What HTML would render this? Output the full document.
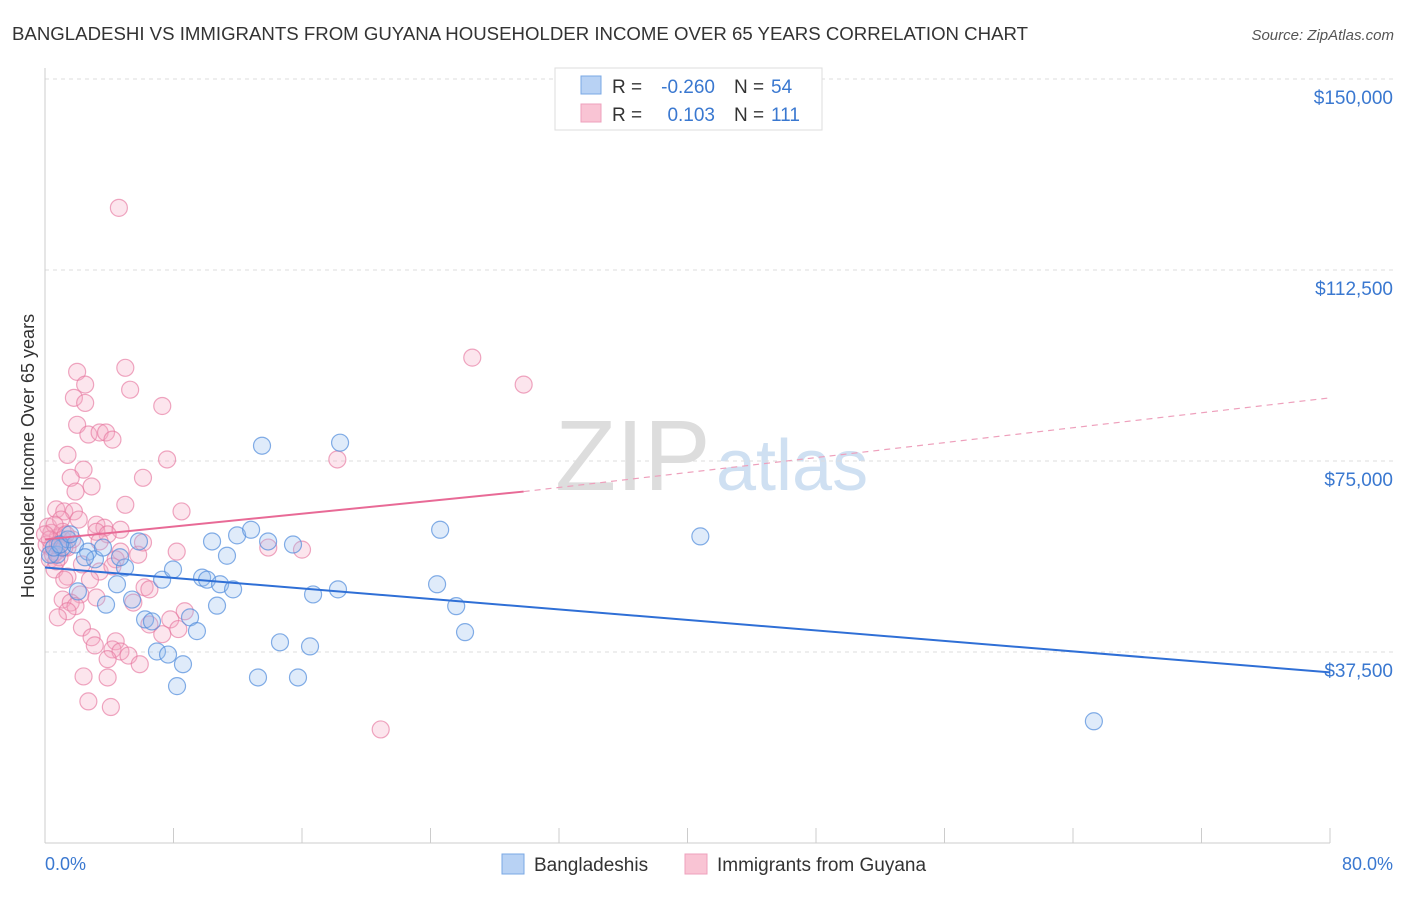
<!DOCTYPE html>
<html><head><meta charset="utf-8"><style>
body{margin:0;background:#fff;font-family:"Liberation Sans",sans-serif;}
svg text{font-family:"Liberation Sans",sans-serif;}
</style></head><body>
<svg id="chart" width="1406" height="892">
<text x="12" y="40" font-size="18" fill="#333" textLength="1016" lengthAdjust="spacingAndGlyphs">BANGLADESHI VS IMMIGRANTS FROM GUYANA HOUSEHOLDER INCOME OVER 65 YEARS CORRELATION CHART</text>
<text x="1394" y="40" font-size="15" fill="#555" text-anchor="end" font-style="italic">Source: ZipAtlas.com</text>
<text x="555" y="490" font-size="100" fill="#ddd" font-family="Liberation Serif">ZIP</text>
<text x="716" y="490" font-size="72" fill="#cfe0f2">atlas</text>
<g id="grid"></g><g id="axes"></g><g id="marks"></g><g id="lines"></g>
<text transform="translate(34,456) rotate(-90)" font-size="18" fill="#333" text-anchor="middle">Householder Income Over 65 years</text>
<text x="45" y="870" font-size="18" fill="#3a78d0">0.0%</text>
<text x="1393" y="870" font-size="18" fill="#3a78d0" text-anchor="end">80.0%</text>
<g>
<rect x="555" y="68" width="267" height="62" fill="#fff" stroke="#ddd"/>
<rect x="581" y="76" width="20" height="18" fill="#b8d2f4" stroke="#7aa8e4"/>
<rect x="581" y="104" width="20" height="18" fill="#f9c4d4" stroke="#eea0bc"/>
<text x="612" y="93" font-size="19" fill="#333">R =</text>
<text x="715" y="93" font-size="19" fill="#3a78d0" text-anchor="end">-0.260</text>
<text x="734" y="93" font-size="19" fill="#333">N =</text>
<text x="771" y="93" font-size="19" fill="#3a78d0">54</text>
<text x="612" y="121" font-size="19" fill="#333">R =</text>
<text x="715" y="121" font-size="19" fill="#3a78d0" text-anchor="end">0.103</text>
<text x="734" y="121" font-size="19" fill="#333">N =</text>
<text x="771" y="121" font-size="19" fill="#3a78d0">111</text>
</g>
<g>
<rect x="502" y="854" width="22" height="20" fill="#b8d2f4" stroke="#7aa8e4"/>
<text x="534" y="871" font-size="19" fill="#333">Bangladeshis</text>
<rect x="685" y="854" width="22" height="20" fill="#f9c4d4" stroke="#eea0bc"/>
<text x="717" y="871" font-size="19" fill="#333">Immigrants from Guyana</text>
</g>
</svg>
<script>
const yTicks=[37500,75000,112500,150000];
const yTickLabels=["$37,500","$75,000","$112,500","$150,000"];
const blueX=[0.75,1.06,1.43,1.87,2.68,3.11,3.61,3.8,2.05,4.48,4.98,4.67,5.42,5.85,6.23,6.66,6.97,7.29,7.66,7.97,8.22,8.59,9.03,9.46,9.78,10.09,10.4,10.71,10.9,11.33,11.71,11.96,12.83,13.26,13.51,13.89,14.63,15.44,15.75,16.5,16.69,18.24,18.37,24.41,24.6,25.6,26.15,40.8,65.3,0.31,0.56,0.93,1.56,2.49];
const blueY=[56.6,58.0,59.6,58.6,57.2,55.7,58.0,46.8,49.4,50.8,54.1,56.1,47.8,59.2,43.9,43.5,37.6,51.7,37.0,53.7,30.8,35.1,44.3,41.6,52.1,51.7,59.2,46.6,50.8,56.4,49.8,60.4,61.5,32.5,78.0,59.2,39.4,58.6,32.5,38.6,48.8,49.8,78.6,50.8,61.5,46.5,41.4,60.2,23.9,56.6,58.0,58.6,60.6,56.1];
const pinkX=[4.6,26.6,29.8,5.0,2.0,2.5,5.3,1.8,2.5,7.3,2.0,2.7,3.4,3.8,4.2,18.2,7.6,2.4,1.4,1.6,2.9,6.1,1.9,5.0,8.5,0.7,1.2,1.8,3.2,3.7,4.7,0.2,0.4,0.8,1.1,0.1,0.4,0.7,1.0,0.3,13.9,16.0,8.2,4.7,5.8,4.4,2.3,0.6,3.4,1.4,1.2,2.8,6.2,6.5,2.2,3.2,1.1,1.6,5.5,1.9,1.4,8.7,0.8,7.8,6.5,8.3,2.3,7.3,2.9,3.1,4.4,4.2,4.7,5.2,3.9,5.9,2.4,3.9,2.7,4.1,20.9,0.8,1.1,1.4,1.7,0.6,0.3,0.5,0.0,0.9,1.3,3.2,3.9,3.4,0.7,4.2,6.1,2.1,1.2];
const pinkY=[124.7,95.3,90.0,93.3,92.5,90.0,89.0,87.4,86.4,85.8,82.1,80.2,80.6,80.6,79.2,75.3,75.3,73.3,76.2,71.7,70.0,71.7,69.0,66.4,65.1,65.5,65.1,65.1,62.5,61.9,61.5,62.1,60.9,60.0,59.6,58.6,58.0,57.2,63.5,55.7,58.0,57.6,57.2,57.2,56.6,55.7,54.7,53.7,53.3,52.3,51.7,51.7,50.2,49.8,48.8,48.2,47.8,47.2,47.2,46.5,45.5,45.5,44.3,43.9,42.9,42.0,42.3,41.0,40.4,38.8,39.6,38.0,37.6,36.8,36.1,35.1,32.7,32.5,27.8,26.7,22.3,58.6,61.1,58.0,59.6,62.5,59.6,56.6,60.6,56.1,60.6,61.1,60.6,59.2,55.3,54.3,59.0,63.5,58.0];
const blueTrend=[54.1,33.5];
const pinkTrend=[59.6,69.0,87.4];
const pinkSolidEnd=29.8;
const NS="http://www.w3.org/2000/svg";
const X=v=>45+v/80*1285;
const Y=v=>843-v/150000*764;
function mk(tag,attrs,parent){const e=document.createElementNS(NS,tag);for(const k in attrs)e.setAttribute(k,attrs[k]);document.getElementById(parent).appendChild(e);return e;}
yTicks.forEach((t,i)=>{
 const l=mk('line',{x1:45,x2:1395,y1:Y(t),y2:Y(t),stroke:'#ddd','stroke-dasharray':'4,4'},'grid');
 
 
 const tx=mk('text',{x:1393,y:Y(t)+25,'font-size':19,fill:'#3a78d0','text-anchor':'end'},'grid');
 tx.textContent=yTickLabels[i];
 
 
});
const ax=mk('line',{x1:45,x2:1330,y1:843,y2:843,stroke:'#ccc'},'axes');


const ay=mk('line',{x1:45,x2:45,y1:68,y2:843,stroke:'#ccc'},'axes');


for(let i=0;i<=10;i++){
 const t=mk('line',{x1:X(i*8),x2:X(i*8),y1:828,y2:843,stroke:'#ccc'},'axes');
 
 
}
pinkX.forEach((x,i)=>{
 const c=mk('circle',{cx:X(x),cy:Y(pinkY[i]*1000),r:8.5,fill:'rgba(245,170,195,0.3)',stroke:'rgba(230,120,160,0.65)','stroke-width':1.2},'marks');
 
 
});
blueX.forEach((x,i)=>{
 const c=mk('circle',{cx:X(x),cy:Y(blueY[i]*1000),r:8.5,fill:'rgba(150,190,240,0.3)',stroke:'rgba(80,140,220,0.7)','stroke-width':1.2},'marks');
 
 
});
const bl=mk('line',{x1:X(0),y1:Y(blueTrend[0]*1000),x2:X(80),y2:Y(blueTrend[1]*1000),stroke:'#2f6fd6','stroke-width':2},'lines');


const ps=mk('line',{x1:X(0),y1:Y(pinkTrend[0]*1000),x2:X(pinkSolidEnd),y2:Y(pinkTrend[1]*1000),stroke:'#e86a96','stroke-width':2},'lines');


const pd=mk('line',{x1:X(pinkSolidEnd),y1:Y(pinkTrend[1]*1000),x2:X(80),y2:Y(pinkTrend[2]*1000),stroke:'#eea0bc','stroke-width':1.2,'stroke-dasharray':'6,5'},'lines');


</script>
</body></html>
